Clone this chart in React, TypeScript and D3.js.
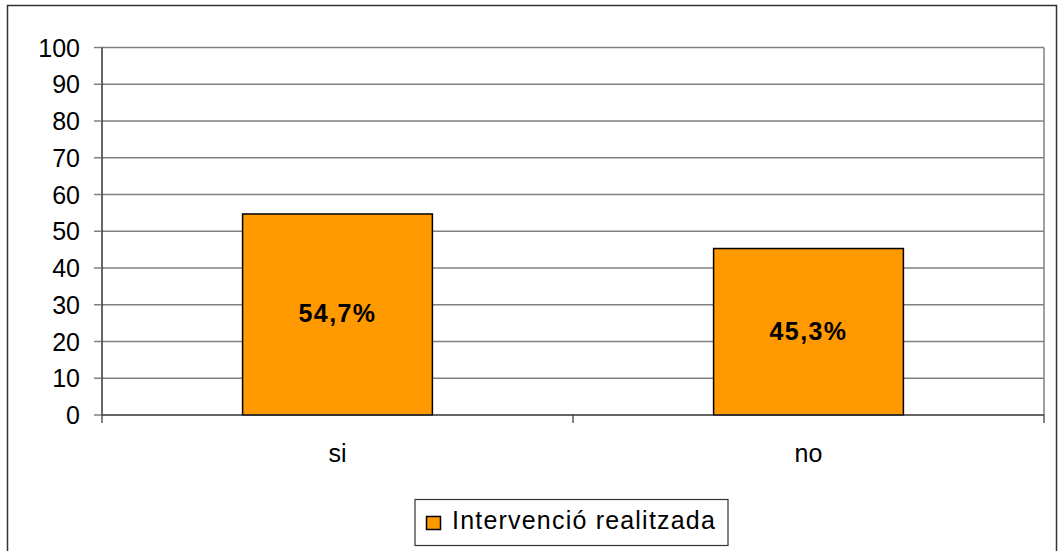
import React, { useRef, useEffect } from 'react';
import * as d3 from 'd3';

const categories = ['si', 'no'];
const values = [54.7, 45.3];
const valueLabels = ['54,7%', '45,3%'];
const yTicks = [0, 10, 20, 30, 40, 50, 60, 70, 80, 90, 100];
const seriesName = 'Intervenció realitzada';

const W = 1058;
const H = 551;
const FONT = 'Arial, "Liberation Sans", sans-serif';

const App = () => {
    const svgRef = useRef<SVGSVGElement | null>(null);

    useEffect(() => {
        if (!svgRef.current) return;
        const svg = d3.select(svgRef.current);
        svg.selectAll('*').remove();

        // plot area
        const left = 102, right = 1044, top = 47.5, bottom = 415;

        const y = d3.scaleLinear().domain([0, 100]).range([bottom, top]);
        const x = d3.scaleBand<string>()
            .domain(categories)
            .range([left, right])
            .paddingInner(0.597)
            .paddingOuter(0.2985);

        // outer chart frame (bottom is cut off)
        svg.append('rect')
            .attr('x', 7.5).attr('y', 5.5)
            .attr('width', 1049).attr('height', 600)
            .attr('fill', '#fff')
            .attr('stroke', '#333')
            .attr('stroke-width', 1.5);

        // gridlines
        svg.selectAll('.grid')
            .data(yTicks.filter(t => t > 0))
            .enter()
            .append('line')
            .attr('x1', left).attr('x2', right)
            .attr('y1', d => y(d)).attr('y2', d => y(d))
            .attr('stroke', '#808080')
            .attr('stroke-width', 1.5);

        // right border of plot area
        svg.append('line')
            .attr('x1', right).attr('x2', right)
            .attr('y1', top).attr('y2', bottom)
            .attr('stroke', '#808080')
            .attr('stroke-width', 1.5);

        // bars
        svg.selectAll('.bar')
            .data(values)
            .enter()
            .append('rect')
            .attr('x', (d, i) => x(categories[i])!)
            .attr('y', d => y(d))
            .attr('width', x.bandwidth())
            .attr('height', d => y(0) - y(d))
            .attr('fill', '#FF9900')
            .attr('stroke', '#000')
            .attr('stroke-width', 1.5);

        // value labels inside bars
        svg.selectAll('.vlabel')
            .data(values)
            .enter()
            .append('text')
            .attr('x', (d, i) => x(categories[i])! + x.bandwidth() / 2)
            .attr('y', d => (y(d) + y(0)) / 2 + 8)
            .attr('text-anchor', 'middle')
            .attr('font-family', FONT)
            .attr('font-size', '25px')
            .attr('font-weight', 'bold')
            .attr('letter-spacing', '1.4px')
            .attr('fill', '#000')
            .text((d, i) => valueLabels[i]);

        // y axis
        svg.append('line')
            .attr('x1', left).attr('x2', left)
            .attr('y1', top).attr('y2', bottom)
            .attr('stroke', '#000').attr('stroke-width', 1.2);
        svg.selectAll('.ytick')
            .data(yTicks)
            .enter()
            .append('line')
            .attr('x1', left - 8).attr('x2', left)
            .attr('y1', d => y(d)).attr('y2', d => y(d))
            .attr('stroke', '#808080').attr('stroke-width', 1.5);
        svg.selectAll('.ylabel')
            .data(yTicks)
            .enter()
            .append('text')
            .attr('x', 80)
            .attr('y', d => y(d) + 9)
            .attr('text-anchor', 'end')
            .attr('font-family', FONT)
            .attr('font-size', '25px')
            .attr('fill', '#000')
            .text(d => d);

        // x axis
        svg.append('line')
            .attr('x1', left).attr('x2', right)
            .attr('y1', bottom).attr('y2', bottom)
            .attr('stroke', '#333').attr('stroke-width', 1.5);
        const xTickPos = [left, (left + right) / 2, right];
        svg.selectAll('.xtick')
            .data(xTickPos)
            .enter()
            .append('line')
            .attr('x1', d => d).attr('x2', d => d)
            .attr('y1', bottom).attr('y2', bottom + 8)
            .attr('stroke', '#333').attr('stroke-width', 1.2);
        svg.selectAll('.xlabel')
            .data(categories)
            .enter()
            .append('text')
            .attr('x', d => x(d)! + x.bandwidth() / 2)
            .attr('y', 462)
            .attr('text-anchor', 'middle')
            .attr('font-family', FONT)
            .attr('font-size', '25px')
            .attr('fill', '#000')
            .text(d => d);

        // legend
        const lg = svg.append('g');
        lg.append('rect')
            .attr('x', 415).attr('y', 499.5)
            .attr('width', 313).attr('height', 46)
            .attr('fill', '#fff')
            .attr('stroke', '#333').attr('stroke-width', 1.2);
        lg.append('rect')
            .attr('x', 426.5).attr('y', 516.5)
            .attr('width', 14).attr('height', 13)
            .attr('fill', '#FF9900')
            .attr('stroke', '#000').attr('stroke-width', 1.5);
        lg.append('text')
            .attr('x', 452)
            .attr('y', 529)
            .attr('font-family', FONT)
            .attr('font-size', '25px')
            .attr('letter-spacing', '1.2px')
            .attr('fill', '#000')
            .text(seriesName);
    }, []);

    return (
        <svg
            ref={svgRef}
            width={W}
            height={H}
            style={{ position: 'absolute', left: 0, top: 0, display: 'block', background: '#fff' }}
        />
    );
};

export default App;
